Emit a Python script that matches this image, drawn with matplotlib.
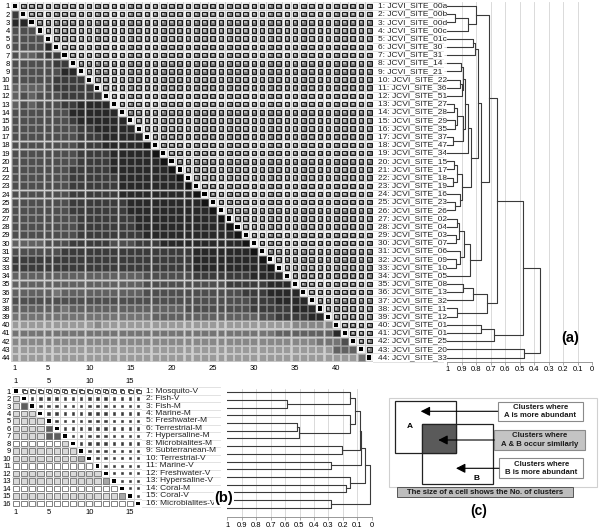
import matplotlib
matplotlib.use("Agg")
import matplotlib.pyplot as plt
from matplotlib.patches import Rectangle, FancyArrowPatch

plt.rcParams['font.family'] = ['Liberation Sans', 'DejaVu Sans']

W, H = 600, 531

# ---- data ----
site_names = ['JCVI_SITE_00a', 'JCVI_SITE_00b', 'JCVI_SITE_00d', 'JCVI_SITE_00c', 'JCVI_SITE_01c',
              'JCVI_SITE_30', 'JCVI_SITE_31', 'JCVI_SITE_14', 'JCVI_SITE_21', 'JCVI_SITE_22',
              'JCVI_SITE_36', 'JCVI_SITE_51', 'JCVI_SITE_27', 'JCVI_SITE_28', 'JCVI_SITE_29',
              'JCVI_SITE_35', 'JCVI_SITE_37', 'JCVI_SITE_47', 'JCVI_SITE_34', 'JCVI_SITE_15',
              'JCVI_SITE_17', 'JCVI_SITE_18', 'JCVI_SITE_19', 'JCVI_SITE_16', 'JCVI_SITE_23',
              'JCVI_SITE_26', 'JCVI_SITE_02', 'JCVI_SITE_04', 'JCVI_SITE_03', 'JCVI_SITE_07',
              'JCVI_SITE_06', 'JCVI_SITE_09', 'JCVI_SITE_10', 'JCVI_SITE_05', 'JCVI_SITE_08',
              'JCVI_SITE_13', 'JCVI_SITE_32', 'JCVI_SITE_11', 'JCVI_SITE_12', 'JCVI_SITE_01a',
              'JCVI_SITE_01b', 'JCVI_SITE_25', 'JCVI_SITE_20', 'JCVI_SITE_33']

env_names = ['Mosquito-V', 'Fish-V', 'Fish-M', 'Marine-M', 'Freshwater-M', 'Terrestrial-M',
             'Hypersaline-M', 'Microbialites-M', 'Subterranean-M', 'Terrestrial-V', 'Marine-V',
             'Freshwater-V', 'Hypersaline-V', 'Coral-M', 'Coral-V', 'Microbialites-V']

# lower-triangle shade of each cell in (a): 0 = black ... 9 = light grey
site_shade = [
    "",
    "2",
    "11",
    "333",
    "3333",
    "3333" + "1",
    "3443" + "22",
    "33333" + "22",
    "333333" + "11",
    "33333" + "2222",
    "4444" + "3" + "22222",
    "434333" + "22222",
    "434333" + "22" + "1111",
    "3" * 7 + "1" * 6,
    "3" * 7 + "2" + "1" * 6,
    "3" * 8 + "22" + "1" * 5,
    "3" * 8 + "222" + "1" * 5,
    "3" * 8 + "222" + "1" * 5 + "0",
    "3" * 8 + "2" * 4 + "1" * 5 + "0",
    "3" * 8 + "2" * 4 + "1" * 6 + "0",
    "3" * 7 + "2" * 5 + "1" * 7 + "0",
    "3" * 7 + "2" * 6 + "1" * 7 + "0",
    "3" * 7 + "2" * 6 + "1" * 8 + "0",
    "3" * 7 + "2" * 6 + "1" * 9 + "0",
    "3" * 7 + "2" * 7 + "1" * 9 + "0",
    "3" * 7 + "2" * 7 + "1" * 10 + "0",
    "3" * 8 + "2" * 7 + "1" * 10 + "0",
    "3" * 8 + "2" * 7 + "1" * 11 + "0",
    "3" * 8 + "2" * 8 + "1" * 11 + "0",
    "4" * 4 + "333" + "2" * 5 + "333" + "222" + "1" * 10 + "0",
    "3" * 6 + "2" * 16 + "1" * 7 + "0",
    "2" * 22 + "1" * 8 + "0",
    "2" * 22 + "1" * 9 + "0",
    "4" * 16 + "3" * 6 + "2" * 7 + "1" * 4,
    "4" * 16 + "3" * 10 + "2" * 5 + "1" * 3,
    "4" * 5 + "5" + "4" * 10 + "3" * 12 + "2" * 3 + "1" * 4,
    "3" * 29 + "2" * 3 + "1" * 4,
    "4" * 6 + "5" + "4" * 14 + "3" * 8 + "2" * 5 + "1" * 3,
    "5" * 17 + "4" * 13 + "3" * 2 + "2" * 4 + "1" * 2,
    "7" * 10 + "6" + "7" * 23 + "6" * 5,
    "5" * 32 + "4" * 7 + "1",
    "6" * 37 + "5" * 3 + "3",
    "7" * 39 + "4" * 3,
    "7" * 42 + "5",
]

# lower-triangle shade of each cell in (b): w white, l light, m mid, d dark
env_shade = ["", "l", "ld", "lll", "llll", "lllld", "lllldd", "wwwwwwl", "l" * 8,
             "l" * 8 + "m", "w" * 10, "l" * 11, "l" * 11 + "m", "w" * 13,
             "l" * 13 + "m", "w" * 15]

# dendrograms: (left, right, similarity at merge); leaves are row numbers
sites_1_4 = (1, ((2, 3, 0.945), 4, 0.855), 0.80)
sites_5_7 = ((5, 6, 0.823), 7, 0.807)
sites_8_19 = ((((8, 9, 0.905), ((10, 11, 0.91), 12, 0.90), 0.895),
               (((13, 14, 0.955), (15, 16, 0.95), 0.93), (17, 18, 0.96), 0.89), 0.875), 19, 0.86)
sites_20_26 = (((20, 21, 0.955), (22, 23, 0.96), 0.935), (24, (25, 26, 0.945), 0.91), 0.90)
sites_27_34 = ((((27, 28, 0.935), (29, 30, 0.94), 0.92), (31, (32, 33, 0.94), 0.91), 0.885), 34, 0.845)
sites_35_39 = (((35, 36, 0.89), 37, 0.82), (38, 39, 0.935), 0.725)
sites_40_42 = ((40, 41, 0.77), 42, 0.68)
sites_43_44 = (43, 44, 0.47)

site_tree = ((((sites_1_4,
                ((sites_5_7, (sites_8_19, sites_20_26, 0.835), 0.79), sites_27_34, 0.77),
                0.71),
               sites_35_39, 0.655),
              sites_40_42, 0.48),
             sites_43_44, 0.36)

env_tree = (
    (
        (
            (
                ((1, (2, 3, 0.586), 0.152), (4, ((5, 6, 0.515), 7, 0.505), 0.152), 0.117),
                (8, 9, 0.209), 0.083),
            (10, 11, 0.285), 0.071),
        (12, (13, 14, 0.18), 0.152), 0.048),
    (15, 16, 0.285), 0.009)

sim_ticks = [1.0, 0.9, 0.8, 0.7, 0.6, 0.5, 0.4, 0.3, 0.2, 0.1, 0.0]
sim_labels = ['1', '0.9', '0.8', '0.7', '0.6', '0.5', '0.4', '0.3', '0.2', '0.1', '0']


def px_axes(fig, x0, y0, x1, y1):
    return fig.add_axes([x0 / W, 1 - y1 / H, (x1 - x0) / W, (y1 - y0) / H])


def shade_grey(d):
    g = 0.08 + int(d) * 0.075
    return (g, g, g)


env_colors = {'w': '#ffffff', 'l': '#d9d9d9', 'm': '#a6a6a6', 'd': '#5e5e5e'}


def draw_tree(ax, node):
    if isinstance(node, int):
        return node, 1.0
    a, b, h = node
    ya, ha = draw_tree(ax, a)
    yb, hb = draw_tree(ax, b)
    ax.plot([ha, h, h, hb], [ya, ya, yb, yb], color='#3a3a3a', lw=0.8)
    return (ya + yb) / 2, h


def style_dendro(ax, n, ybottom):
    ax.set_xlim(1, 0)
    ax.set_ylim(ybottom, 0.5)
    for v in sim_ticks[1:]:
        ax.axvline(v, color='#d4d4d4', lw=0.6, zorder=0)
    for s in ['top', 'right', 'left']:
        ax.spines[s].set_visible(False)
    ax.spines['bottom'].set_color('#888888')
    ax.spines['bottom'].set_linewidth(0.6)
    ax.set_xticks(sim_ticks)
    ax.set_xticklabels(sim_labels)
    ax.tick_params(axis='x', length=2, width=0.5, color='#888888', labelsize=5.5, pad=1.5)
    ax.set_yticks(range(1, n + 1))
    ax.tick_params(axis='y', length=2, width=0.4, color='#bbbbbb', labelleft=False)


fig = plt.figure(figsize=(W / 100, H / 100), dpi=100)

# ---------------- (a) matrix ----------------
n = len(site_names)
axA = px_axes(fig, 10.9, 1.9, 373.4, 361.6)
axA.set_xlim(0.5, n + 0.5)
axA.set_ylim(n + 0.5, 0.5)
axA.set_facecolor('#cfcfcf')
for s in axA.spines.values():
    s.set_visible(False)
for r in range(1, n + 1):
    for c in range(1, n + 1):
        if c < r:
            g = shade_grey(site_shade[r - 1][c - 1])
            e = tuple(min(1, x + 0.2) for x in g)
            axA.add_patch(Rectangle((c - 0.42, r - 0.42), 0.84, 0.84, fc=g, ec=e, lw=0.5))
        elif c == r:
            axA.add_patch(Rectangle((c - 0.44, r - 0.44), 0.88, 0.88, fc='#f2f2f2', ec='none'))
            axA.add_patch(Rectangle((c - 0.25, r - 0.25), 0.5, 0.5, fc='black', ec='none'))
        else:
            axA.add_patch(Rectangle((c - 0.44, r - 0.44), 0.88, 0.88, fc='#f2f2f2', ec='none'))
            axA.add_patch(Rectangle((c - 0.28, r - 0.28), 0.56, 0.56, fc='#7c7c7c', ec='#1c1c1c', lw=0.8))
            axA.add_patch(Rectangle((c - 0.15, r - 0.15), 0.28, 0.28, fc='#b8b8b8', ec='none'))
axA.set_xticks([1] + list(range(5, n, 5)))
axA.set_yticks(range(1, n + 1))
axA.tick_params(length=0, labelsize=5.5)
axA.tick_params(axis='x', pad=2.5)
axA.tick_params(axis='y', pad=0.5)
for r, name in enumerate(site_names, start=1):
    axA.text(n + 1.0, r, f"{r}: {name}", fontsize=6, va='center', ha='left', color='#222222')
for r in range(0, n + 1):
    axA.plot([n + 0.5, n + 9.0], [r + 0.5, r + 0.5], color='#dddddd', lw=0.6, clip_on=False)

axDa = px_axes(fig, 447.3, 1.9, 592.3, 361.6)
style_dendro(axDa, n, n + 0.5)
draw_tree(axDa, site_tree)
fig.text(570 / W, 1 - 338 / H, '(a)', fontsize=10.5, fontweight='bold', ha='center', va='center')

# ---------------- (b) matrix ----------------
m = len(env_names)
axB = px_axes(fig, 11.9, 387.3, 142.4, 507.1)
axB.set_xlim(0.5, m + 0.5)
axB.set_ylim(m + 0.5, 0.5)
axB.set_facecolor('#d6d6d6')
for s in axB.spines.values():
    s.set_visible(False)
for r in range(1, m + 1):
    for c in range(1, m + 1):
        axB.add_patch(Rectangle((c - 0.45, r - 0.45), 0.9, 0.9, fc='white', ec='none'))
        if c < r:
            axB.add_patch(Rectangle((c - 0.38, r - 0.38), 0.76, 0.76,
                                    fc=env_colors[env_shade[r - 1][c - 1]], ec='#6e6e6e', lw=0.6))
        elif c == r:
            axB.add_patch(Rectangle((c - 0.24, r - 0.24), 0.48, 0.48, fc='black', ec='none'))
        elif r == 1:
            axB.add_patch(Rectangle((c - 0.3, r - 0.32), 0.42, 0.42, fc='white', ec='#333333', lw=0.6))
            axB.add_patch(Rectangle((c - 0.12, r - 0.12), 0.42, 0.42, fc='white', ec='#333333', lw=0.6))
        else:
            axB.add_patch(Rectangle((c - 0.16, r - 0.16), 0.3, 0.3, fc='#3a3a3a', ec='#3a3a3a', lw=0.4))
axB.set_xticks([1, 5, 10, 15])
axB.set_yticks(range(1, m + 1))
axB.tick_params(length=0, labelsize=5.5, top=True, labeltop=True)
axB.tick_params(axis='x', pad=1.5)
axB.tick_params(axis='y', pad=0.5)
for r, name in enumerate(env_names, start=1):
    axB.text(m + 1.0, r, f"{r}: {name}", fontsize=6, va='center', ha='left', color='#222222')
for r in range(0, m + 1):
    axB.plot([m + 0.5, m + 10.0], [r + 0.5, r + 0.5], color='#dddddd', lw=0.6, clip_on=False)

axDb = px_axes(fig, 227.3, 388.5, 371.7, 516.7)
style_dendro(axDb, m, 17.17)
axDb.tick_params(axis='y', length=0)
draw_tree(axDb, env_tree)
fig.text(224 / W, 1 - 498 / H, '(b)', fontsize=10.5, fontweight='bold', ha='center', va='center',
         bbox=dict(fc='white', ec='none', pad=0.5), zorder=10)

# ---------------- (c) key ----------------
axC = px_axes(fig, 380, 390, 600, 531)
axC.set_xlim(380, 600)
axC.set_ylim(531, 390)
axC.axis('off')
axC.add_patch(Rectangle((389, 398), 208, 89, fc='none', ec='#d0d0d0', lw=0.8))
axC.add_patch(Rectangle((395, 401), 60.7, 51.7, fc='white', ec='#222222', lw=0.9))
axC.add_patch(Rectangle((422.3, 424.3), 70.4, 59.7, fc='none', ec='#222222', lw=0.9))
axC.add_patch(Rectangle((422.3, 424.3), 33.4, 28.4, fc='#5a5a5a', ec='#222222', lw=0.9))
axC.text(410, 426.5, 'A', fontsize=6, fontweight='bold', ha='center', va='center')
axC.text(476, 479, 'B', fontsize=6, fontweight='bold', ha='center', va='center')

boxes = [((497.7, 401.7), 85.6, 19.3, 'white', 'Clusters where\nA is more abundant', 411.3, 420.7),
         ((494.3, 430.0), 90.7, 20.0, '#c4c4c4', 'Clusters where\nA & B occur similarly', 440.0, 438.3),
         ((499.0, 458.3), 84.3, 20.0, 'white', 'Clusters where\nB is more abundant', 468.3, 456.0)]
for (x0, y0), bw, bh, fc, txt, ya, xh in boxes:
    axC.add_patch(Rectangle((x0, y0), bw, bh, fc=fc, ec='#8a8a8a', lw=0.8))
    axC.text(x0 + bw / 2, y0 + bh / 2, txt, fontsize=5.6, fontweight='bold', ha='center',
             va='center', linespacing=1.25, color='#1a1a1a')
    axC.add_patch(FancyArrowPatch((x0, ya), (xh, ya), arrowstyle='-|>,head_length=0.55,head_width=0.28',
                                  mutation_scale=10, color='black', lw=0.8, shrinkA=0, shrinkB=0))

axC.add_patch(Rectangle((396.7, 487.3), 176.3, 10.0, fc='#bdbdbd', ec='#555555', lw=0.7))
axC.text(484.8, 492.3, 'The size of a cell shows the No. of clusters', fontsize=5.6,
         fontweight='bold', ha='center', va='center', color='#1a1a1a')
axC.text(479, 511.5, '(c)', fontsize=10, fontweight='bold', ha='center', va='center')

fig.savefig('out.png', dpi=100)
